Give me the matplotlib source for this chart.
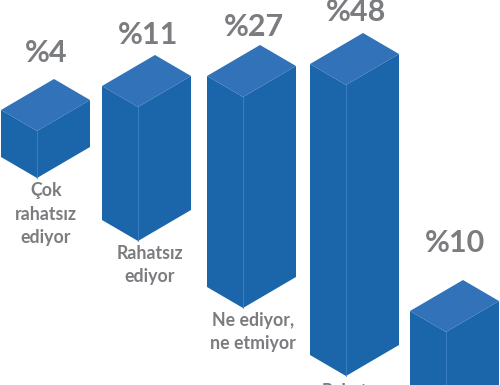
import matplotlib
matplotlib.use("Agg")
import matplotlib.pyplot as plt
from matplotlib.patches import Polygon

values = [4, 11, 27, 48, 10]
pct_labels = ["%4", "%11", "%27", "%48", "%10"]
cat_labels = ["Çok\nrahatsız\nediyor", "Rahatsız\nediyor", "Ne ediyor,\nne etmiyor", "Rahatsız\netmiyor", ""]
# drawn height of each block
heights = [47, 134, 211, 291, 291]

lefts = [1, 102, 207, 310, 410]
tops = [110, 86, 76, 64, 311]
pct_x = [46, 148, 254, 356, 455]
pct_y = [53, 35, 27, 12, 243]
cat_x = [46, 150, 253, 355, 0]
cat_y = [214, 265, 332, 403, 0]

FRONT_W = 36
SIDE_W = 53
DY_FRONT = 21
DY_SIDE = 31

TOP = "#3272b8"
LEFT = "#1b66aa"
RIGHT = "#1b66aa"
EDGE = "#3f82c4"
GREY = "#7b7c7f"


def Block(ax, x, y, h):
    fx = x + FRONT_W
    fy = y + DY_FRONT
    rx = fx + SIDE_W
    ry = fy - DY_SIDE
    bx = x + SIDE_W
    by = y - DY_SIDE
    ax.add_patch(Polygon([(x, y), (bx, by), (rx, ry), (fx, fy)], color=TOP, lw=0))
    ax.add_patch(Polygon([(x, y), (fx, fy), (fx, fy + h), (x, y + h)], color=LEFT, lw=0))
    ax.add_patch(Polygon([(fx, fy), (rx, ry), (rx, ry + h), (fx, fy + h)], color=RIGHT, lw=0))
    ax.plot([fx, fx], [fy, fy + h], color=EDGE, linewidth=0.6)


fig = plt.figure(figsize=(5, 3.85), dpi=100)
ax = fig.add_axes([0, 0, 1, 1])
ax.set_xlim(0, 500)
ax.set_ylim(385, 0)
ax.axis("off")

for i in range(len(values)):
    Block(ax, lefts[i], tops[i], heights[i])
    ax.text(pct_x[i], pct_y[i], pct_labels[i], color=GREY, fontsize=22, family="Lato",
            ha="center", va="center", fontweight="bold")
    if cat_labels[i]:
        ax.text(cat_x[i], cat_y[i], cat_labels[i], color=GREY, fontsize=12.8, family="Lato",
                ha="center", va="center", fontweight="bold", linespacing=1.45)

plt.savefig("out.png", dpi=100)
